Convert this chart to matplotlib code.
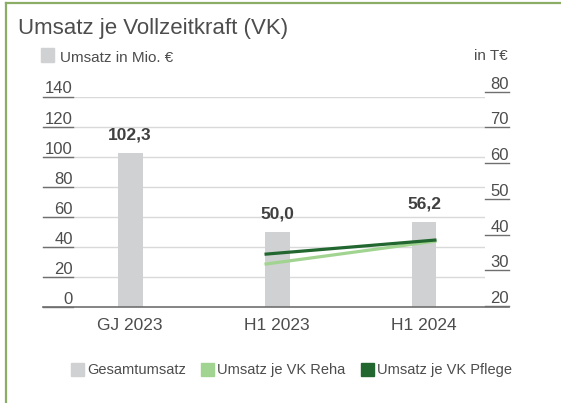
import matplotlib.pyplot as plt
from matplotlib.lines import Line2D
from matplotlib.patches import Rectangle
from matplotlib.transforms import blended_transform_factory

plt.rcParams['font.family'] = ['Liberation Sans', 'DejaVu Sans']

# Daten
kategorien = ['GJ 2023', 'H1 2023', 'H1 2024']
gesamtumsatz = [102.3, 50.0, 56.2]
umsatz_labels = ['102,3', '50,0', '56,2']
reha = [31.7, 38.2]      # H1 2023, H1 2024 (in T€)
pflege = [34.5, 38.5]
links_ticks = [0, 20, 40, 60, 80, 100, 120, 140]
rechts_ticks = [20, 30, 40, 50, 60, 70, 80]

grau = '#d0d1d3'
hellgruen = '#a1d490'
dunkelgruen = '#22672f'
textfarbe = '#4d4d4d'
rahmen = '#8cad66'

W, H = 561, 403
fig = plt.figure(figsize=(W / 100, H / 100), dpi=100)


def fx(px):
    return px / W


def fy(py):
    return 1 - py / H


# Rahmen links und oben
fig.add_artist(Line2D([fx(6), fx(6)], [0, fy(2.5)], color=rahmen, lw=1.6))
fig.add_artist(Line2D([fx(6), 1], [fy(2.5), fy(2.5)], color=rahmen, lw=1.6))

fig.text(fx(18), fy(34), 'Umsatz je Vollzeitkraft (VK)', fontsize=16,
         color=textfarbe, va='baseline', ha='left')
fig.add_artist(Rectangle((fx(41), fy(62)), fx(13), fy(48) - fy(62), color=grau,
                         transform=fig.transFigure))
fig.text(fx(60), fy(61.5), 'Umsatz in Mio. €', fontsize=11, color=textfarbe, va='baseline')
fig.text(fx(508), fy(60.5), 'in T€', fontsize=11, color=textfarbe, va='baseline', ha='right')

ax = fig.add_axes([fx(43), fy(307), fx(485) - fx(43), fy(96.5) - fy(307)])
ax2 = ax.twinx()
ax.set_zorder(ax2.get_zorder() - 1)
ax.patch.set_visible(False)
ax2.patch.set_visible(False)

x = list(range(len(kategorien)))
bw = 0.17
ax.bar(x, gesamtumsatz, width=bw, color=grau, zorder=2)
for xi, v, lab in zip(x, gesamtumsatz, umsatz_labels):
    ax.annotate(lab, (xi, v), xytext=(0, 13), textcoords='offset points',
                ha='center', va='center', fontsize=12.5, fontweight='bold', color='#404040')

ax.set_xlim(-0.592, 2.415)
ax.set_ylim(0, 140)
ax2.set_ylim(19.72, 78.68)

for a in (ax, ax2):
    for s in a.spines.values():
        s.set_visible(False)
    a.set_yticks([])
ax.set_xticks(x, kategorien, fontsize=12.5, color=textfarbe)
ax.tick_params(axis='x', length=0, pad=8)

breite = 485 - 43
tl = blended_transform_factory(ax.transAxes, ax.transData)
for t in links_ticks:
    if t > 0:
        ax.axhline(t, color='#d9d9d9', lw=1, zorder=1)
    ax.plot([0, 30 / breite], [t, t], transform=tl, color='#6f6f6f', lw=1, clip_on=False)
    ax.annotate(str(t), (30 / breite, t), xycoords=tl, xytext=(0, 2.2),
                textcoords='offset points', ha='right', va='baseline',
                fontsize=12, color=textfarbe)
ax.plot([0, (509 - 43) / breite], [0, 0], transform=tl, color='#6f6f6f',
        lw=1.2, clip_on=False, zorder=3)

tr = blended_transform_factory(ax2.transAxes, ax2.transData)
for t in rechts_ticks:
    ax2.plot([1, (509 - 43) / breite], [t, t], transform=tr, color='#6f6f6f',
             lw=1, clip_on=False)
    ax2.annotate(str(t), ((509 - 43) / breite, t), xycoords=tr, xytext=(0, 2.2),
                 textcoords='offset points', ha='right', va='baseline',
                 fontsize=12, color=textfarbe)

x_linie = [x[1] - bw / 2, x[2] + bw / 2]
ax2.plot(x_linie, reha, color=hellgruen, lw=2.3, solid_capstyle='butt', zorder=4)
ax2.plot(x_linie, pflege, color=dunkelgruen, lw=2.3, solid_capstyle='butt', zorder=5)

# Legende unten
legende = [(71, grau, 'Gesamtumsatz'), (201, hellgruen, 'Umsatz je VK Reha'),
           (361, dunkelgruen, 'Umsatz je VK Pflege')]
for px, farbe, text in legende:
    fig.add_artist(Rectangle((fx(px), fy(376)), fx(13), fy(363) - fy(376), color=farbe,
                             transform=fig.transFigure))
    fig.text(fx(px + 16), fy(370), text, fontsize=10.5, color=textfarbe, va='center')

fig.savefig('out.png', dpi=100)
